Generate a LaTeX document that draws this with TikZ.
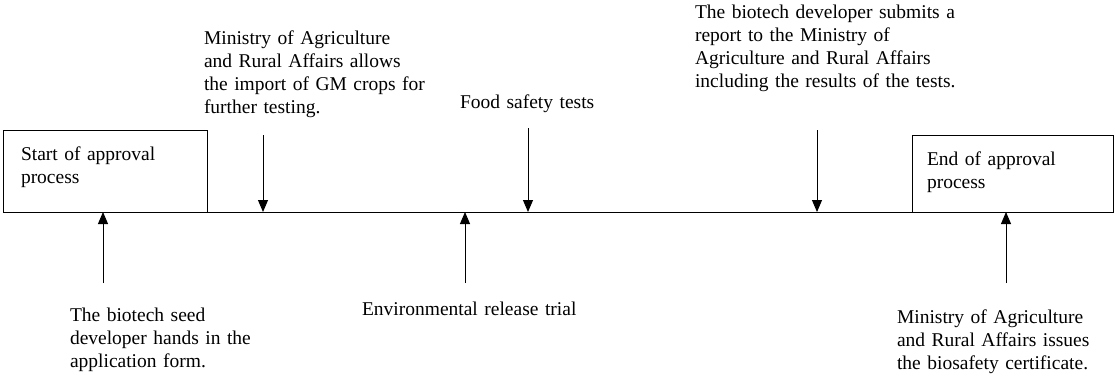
\documentclass[tikz,border=0pt]{standalone}
\usepackage{fontspec}
\setmainfont{Liberation Serif}
\usetikzlibrary{arrows.meta}
\begin{document}
\begin{tikzpicture}[x=1pt,y=-1pt,
  every node/.style={inner sep=0pt,outer sep=0pt,font=\fontsize{19.5}{23}\selectfont},
  lbl/.style={anchor=base west,text width=#1,align=left},
  lbl/.default=260pt,
  box/.style={draw,line width=0.9pt},
  tl/.style={line width=0.9pt},
  arr/.style={line width=0.9pt,-{Triangle[width=10pt,length=12pt]}}]
\useasboundingbox (0,0) rectangle (1115,376);
% boxes
\draw[box] (3,130) rectangle (207,212);
\draw[box] (912,135) rectangle (1113,212);
\node[lbl=180pt] (start) at (21,160) {Start of approval\\process};
\node[lbl=180pt] (end) at (927,165) {End of approval\\process};
% timeline
\coordinate (L) at (3,212);
\coordinate (R) at (1113,212);
\draw[tl] (L) -- (R);
% points on the timeline
\coordinate (p1) at (103,212);
\coordinate (p2) at (263,212);
\coordinate (p3) at (465,212);
\coordinate (p4) at (528,212);
\coordinate (p5) at (817,212);
\coordinate (p6) at (1006,212);
% top labels
\node[lbl] (ministry) at (204,44) {Ministry of Agriculture\\and Rural Affairs allows\\the import of GM crops for\\further testing.};
\node[lbl] (food) at (460,108) {Food safety tests};
\node[lbl=300pt] (report) at (695,18) {The biotech developer submits a\\report to the Ministry of\\Agriculture and Rural Affairs\\including the results of the tests.};
% bottom labels
\node[lbl] (seed) at (70,321) {The biotech seed\\developer hands in the\\application form.};
\node[lbl] (env) at (362,315) {Environmental release trial};
\node[lbl] (cert) at (897,323) {Ministry of Agriculture\\and Rural Affairs issues\\the biosafety certificate.};
% arrow ends
\coordinate (d2) at (263,135);
\coordinate (d4) at (528,128);
\coordinate (d5) at (817,130);
\coordinate (u1) at (103,283);
\coordinate (u3) at (465,283);
\coordinate (u6) at (1006,283);
\draw[arr] (d2) -- (p2);
\draw[arr] (d4) -- (p4);
\draw[arr] (d5) -- (p5);
\draw[arr] (u1) -- (p1);
\draw[arr] (u3) -- (p3);
\draw[arr] (u6) -- (p6);
\end{tikzpicture}
\end{document}
